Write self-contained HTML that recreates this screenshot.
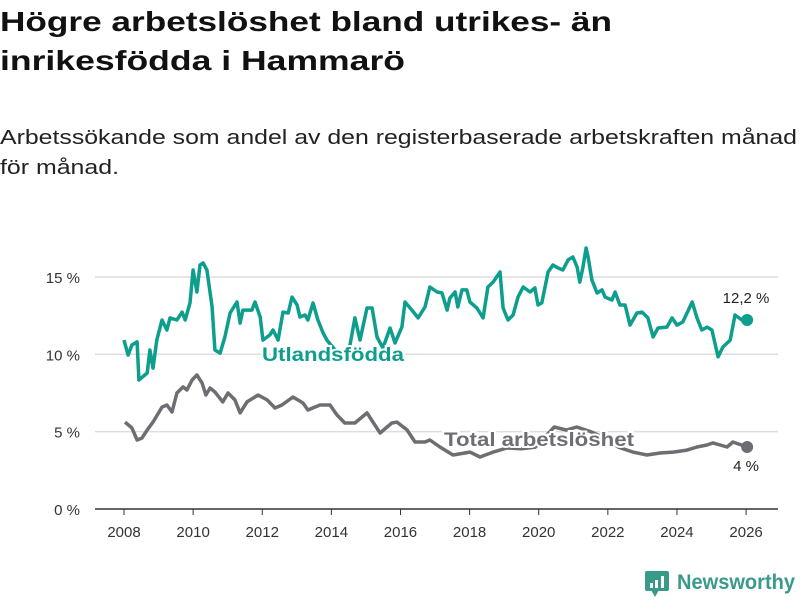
<!DOCTYPE html>
<html><head><meta charset="utf-8"><style>
body{margin:0;background:#fff;width:800px;height:600px;overflow:hidden}
svg{display:block;font-family:"Liberation Sans",sans-serif}
</style></head><body>
<svg id="chart" width="800" height="600">
<text x="0" y="31" font-size="28" font-weight="bold" fill="#111" textLength="612" lengthAdjust="spacingAndGlyphs">Högre arbetslöshet bland utrikes- än</text>
<text x="0" y="70" font-size="28" font-weight="bold" fill="#111" textLength="405" lengthAdjust="spacingAndGlyphs">inrikesfödda i Hammarö</text>
<text x="0" y="144" font-size="20" fill="#222" textLength="797" lengthAdjust="spacingAndGlyphs">Arbetssökande som andel av den registerbaserade arbetskraften månad</text>
<text x="0" y="174" font-size="20" fill="#222" textLength="119" lengthAdjust="spacingAndGlyphs">för månad.</text>
<g id="grid"></g><g id="series"></g><g id="labels"></g>
<g>
<rect x="645" y="571" width="24" height="20" rx="2" fill="#3a9a8a"/>
<path d="M651 590 L655 597 L659 590 Z" fill="#3a9a8a"/>
<rect x="650" y="583" width="3" height="5" fill="#fff"/><rect x="655" y="580" width="3" height="8" fill="#fff"/><rect x="661" y="576" width="3" height="12" fill="#fff"/>
<text x="677" y="589" font-size="21" font-weight="bold" fill="#3a9a8a" textLength="118" lengthAdjust="spacingAndGlyphs">Newsworthy</text>
</g>
</svg>
<script>
const yTicks=[0,5,10,15];
const yTickLabels=["0 %","5 %","10 %","15 %"];
const xTicks=[2008,2010,2012,2014,2016,2018,2020,2022,2024,2026];
const utlYears=[2008.00,2008.12,2008.23,2008.38,2008.43,2008.67,2008.75,2008.84,2008.95,2009.10,2009.24,2009.33,2009.53,2009.68,2009.77,2009.91,2010.00,2010.11,2010.20,2010.29,2010.40,2010.55,2010.63,2010.78,2010.92,2011.07,2011.27,2011.36,2011.44,2011.70,2011.79,2011.94,2012.02,2012.22,2012.31,2012.46,2012.60,2012.75,2012.86,2013.01,2013.09,2013.24,2013.32,2013.47,2013.61,2013.76,2013.87,2014.11,2014.39,2014.54,2014.68,2014.83,2015.03,2015.18,2015.32,2015.49,2015.70,2015.84,2016.04,2016.13,2016.33,2016.51,2016.71,2016.85,2017.06,2017.20,2017.35,2017.43,2017.58,2017.66,2017.78,2017.92,2018.01,2018.21,2018.39,2018.53,2018.68,2018.88,2018.97,2019.11,2019.26,2019.40,2019.55,2019.75,2019.89,2019.98,2020.09,2020.27,2020.41,2020.56,2020.70,2020.85,2020.99,2021.11,2021.19,2021.28,2021.37,2021.43,2021.54,2021.69,2021.83,2021.92,2022.12,2022.21,2022.35,2022.50,2022.64,2022.84,2022.99,2023.16,2023.31,2023.45,2023.71,2023.86,2024.00,2024.17,2024.44,2024.58,2024.72,2024.87,2025.01,2025.19,2025.33,2025.54,2025.68,2025.88,2026.03];
const utlValues=[10.92,9.95,10.60,10.80,8.34,8.79,10.28,9.11,10.92,12.22,11.57,12.35,12.22,12.73,12.22,13.32,15.45,14.03,15.77,15.90,15.45,13.06,10.28,10.08,11.12,12.67,13.38,12.02,12.86,12.86,13.38,12.41,10.92,11.25,11.57,10.92,12.73,12.67,13.70,13.19,12.41,12.54,12.22,13.32,12.22,11.38,10.92,10.28,10.15,10.60,12.35,10.92,12.99,12.99,11.12,10.41,11.70,10.73,11.76,13.38,12.86,12.35,13.06,14.35,14.03,13.96,12.86,13.64,14.03,13.06,14.16,14.16,13.38,12.99,12.35,14.35,14.67,15.32,12.99,12.22,12.54,13.70,14.35,14.03,14.29,13.19,13.32,15.32,15.77,15.58,15.45,16.10,16.29,15.64,14.67,15.64,16.87,16.29,14.80,13.96,14.16,13.70,13.51,14.03,13.19,13.19,11.89,12.67,12.73,12.35,11.12,11.70,11.76,12.35,11.89,12.09,13.38,12.35,11.57,11.76,11.57,9.83,10.47,10.92,12.54,12.22,12.22];
const totYears=[2008.03,2008.23,2008.38,2008.52,2008.67,2008.84,2009.10,2009.24,2009.39,2009.53,2009.71,2009.82,2009.97,2010.11,2010.26,2010.37,2010.49,2010.63,2010.86,2011.01,2011.21,2011.36,2011.56,2011.88,2012.14,2012.37,2012.57,2012.89,2013.18,2013.32,2013.67,2013.96,2014.16,2014.39,2014.68,2015.03,2015.41,2015.75,2015.90,2016.19,2016.42,2016.71,2016.85,2017.14,2017.52,2018.01,2018.30,2018.68,2019.08,2019.5,2019.9,2020.2,2020.45,2020.8,2021.1,2021.5,2021.9,2022.3,2022.73,2023.13,2023.51,2023.89,2024.29,2024.58,2024.87,2025.04,2025.45,2025.62,2026.03];
const totValues=[5.62,5.24,4.46,4.59,5.11,5.62,6.59,6.72,6.27,7.50,7.89,7.69,8.34,8.66,8.14,7.37,7.82,7.56,6.92,7.50,7.05,6.21,6.92,7.37,7.05,6.53,6.72,7.24,6.85,6.40,6.72,6.72,6.08,5.56,5.56,6.21,4.91,5.56,5.62,5.11,4.33,4.33,4.46,4.01,3.49,3.68,3.36,3.68,3.94,3.9,4.0,4.7,5.3,5.1,5.3,5.0,4.6,4.0,3.68,3.49,3.62,3.68,3.81,4.01,4.14,4.27,4.01,4.33,4.01];
const lastLabels=["12,2 %","4 %"];
const NS="http://www.w3.org/2000/svg";
const X=y=>124+(y-2008)*34.56;
const Y=v=>509-v*15.47;
function mk(tag,at,parent){const e=document.createElementNS(NS,tag);for(const k in at)e.setAttribute(k,at[k]);parent.appendChild(e);return e;}
const grid=document.getElementById('grid'),ser=document.getElementById('series'),lab=document.getElementById('labels');
yTicks.forEach((t,i)=>{
  const l=mk('line',{x1:95,x2:778,y1:Y(t),y2:Y(t),stroke:t===0?'#333':'#ddd','stroke-width':t===0?1.5:1.5},grid);
  
  
  const tx=mk('text',{x:80,y:Y(t)+6,'text-anchor':'end','font-size':15,fill:'#333'},grid);
  tx.textContent=yTickLabels[i];
  
  
});
xTicks.forEach(t=>{
  const l=mk('line',{x1:X(t),x2:X(t),y1:509,y2:515,stroke:'#333'},grid);
  
  
  const tx=mk('text',{x:X(t),y:537,'text-anchor':'middle','font-size':15,fill:'#333'},grid);
  tx.textContent=t;
  
  
});
function line(ys,vs,col,name){
  const p=mk('path',{d:ys.map((y,i)=>(i?'L':'M')+X(y).toFixed(1)+' '+Y(vs[i]).toFixed(1)).join(' '),fill:'none',stroke:col,'stroke-width':3.5,'stroke-linejoin':'round'},ser);
  
  
  const n=ys.length-1;
  const c=mk('circle',{cx:X(ys[n]),cy:Y(vs[n]),r:6,fill:col},ser);
  
  
}
line(totYears,totValues,'#6e6d73','total-line');
line(utlYears,utlValues,'#0d9e8d','utlandsfodda-line');
function label(x,y,txt,col,name,len){
  const t=mk('text',{x:x,y:y,'font-size':19,'font-weight':'bold',fill:col,stroke:'#fff','stroke-width':4,'paint-order':'stroke',textLength:len,lengthAdjust:'spacingAndGlyphs'},lab);
  t.textContent=txt;
  
  
}
label(262,361,'Utlandsfödda','#0d9e8d','utlandsfodda-label',142);
label(444,446,'Total arbetslöshet','#6e6d73','total-label',190);
const e1=mk('text',{x:746,y:303,'text-anchor':'middle','font-size':15,fill:'#222'},lab);
e1.textContent=lastLabels[0];


const e2=mk('text',{x:746,y:471,'text-anchor':'middle','font-size':15,fill:'#222'},lab);
e2.textContent=lastLabels[1];


</script>
</body></html>
